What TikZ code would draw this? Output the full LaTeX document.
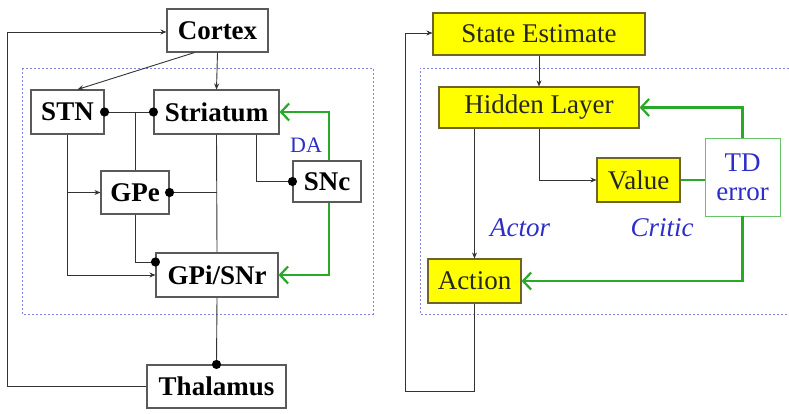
\documentclass[tikz,border=0pt]{standalone}
\usepackage{fontspec}
\setmainfont{Liberation Serif}[BoldFont={Liberation Serif Bold},ItalicFont={Liberation Serif Italic}]
\usetikzlibrary{arrows.meta,calc}
\definecolor{ybox}{RGB}{255,255,0}
\definecolor{yedge}{RGB}{110,100,40}
\definecolor{gline}{RGB}{40,170,40}
\definecolor{btext}{RGB}{45,45,200}
\definecolor{dotbox}{RGB}{130,130,220}
\definecolor{bedge}{RGB}{90,90,90}
\tikzset{
  lbox/.style={draw=bedge,line width=1.1pt,fill=white,inner sep=0pt,font=\fontsize{27}{30}\selectfont\bfseries},
  ybx/.style={draw=yedge,line width=1.1pt,fill=ybox,inner sep=0pt,text=black!85,font=\fontsize{27}{30}\selectfont},
  tdbox/.style={draw=gline!70,line width=0.9pt,fill=white,inner sep=0pt,text=btext,align=center,font=\fontsize{27}{29}\selectfont},
  con/.style={draw=black!80,line width=0.9pt},
  arr/.style={con,-{Stealth[length=6pt,width=5pt]}},
  garr/.style={draw=gline,line width=2.4pt,-{Straight Barb[length=8pt,width=17pt,line width=2.2pt]}},
  gline/.style={draw=gline,line width=2.4pt},
  dotb/.style={draw=dotbox,line width=0.9pt,dash pattern=on 2pt off 2pt},
  bluelab/.style={text=btext,inner sep=0pt},
}
\newcommand{\blob}[1]{\fill[black] (#1) circle (4.6pt);}
\begin{document}
\begin{tikzpicture}[x=1pt,y=-1pt]
\useasboundingbox (0,0) rectangle (789,414);
% dotted frames
\draw[dotb] (22,68) rectangle (373,314);
\draw[dotb] (789,68) -- (420,68) -- (420,314) -- (789,314);
% ---------- left: basal ganglia ----------
\node[lbox,minimum width=101pt,minimum height=43pt] (cortex) at (217.5,30.5) {Cortex};
\node[lbox,minimum width=73pt,minimum height=44pt] (stn) at (67.5,112) {STN};
\node[lbox,minimum width=125pt,minimum height=44pt] (striatum) at (216.5,112) {Striatum};
\node[lbox,minimum width=68pt,minimum height=43pt] (gpe) at (135,192.5) {GPe};
\node[lbox,minimum width=68pt,minimum height=41pt] (snc) at (327,181.5) {SNc};
\node[lbox,minimum width=122pt,minimum height=44pt] (gpi) at (217,275) {GPi/SNr};
\node[lbox,minimum width=139pt,minimum height=43pt] (thal) at (216.5,386.5) {Thalamus};
\node[bluelab,font=\fontsize{22}{24}\selectfont] (da) at (306,145) {DA};
% connectors
\draw[arr] ([xshift=-23]cortex.south) -- ([xshift=10]stn.north);
\draw[arr] (cortex.south) -- (striatum.north);
\draw[con] (stn.east) -- (striatum.west);
\blob{stn.east}\blob{striatum.west}
\draw[con] (gpe.north) -- (gpe.north |- stn.east);
\draw[con] (striatum.south) -- (gpi.north);
\coordinate (gpejoin) at (striatum.south |- gpe.east);
\draw[con] (gpe.east) -- (gpejoin);
\blob{gpe.east}
\draw[arr] (stn.south) |- (gpi.west);
\draw[arr] (stn.south |- gpe.west) -- (gpe.west);
\draw[con] (gpe.south) |- ([yshift=13]gpi.west);
\blob{[yshift=13]gpi.west}
\draw[con] ([xshift=40]striatum.south) |- (snc.west);
\blob{snc.west}
\draw[garr] ([xshift=2]snc.north) |- (striatum.east);
\draw[garr] ([xshift=2]snc.south) |- (gpi.east);
\draw[con] (gpi.south) -- (thal.north);
\blob{thal.north}
\coordinate (lc) at (7,386.5);
\draw[arr] (thal.west) -- (lc) |- ([yshift=-1.5]cortex.west);
% ---------- right: actor-critic ----------
\node[ybx,minimum width=212pt,minimum height=42pt] (state) at (539,34) {State Estimate};
\node[ybx,minimum width=200pt,minimum height=41pt] (hidden) at (539,107.5) {Hidden Layer};
\node[ybx,minimum width=93pt,minimum height=44pt] (action) at (474.5,281) {Action};
\node[ybx,minimum width=83pt,minimum height=44pt] (value) at (638.5,180) {Value};
\node[tdbox,minimum width=75pt,minimum height=78pt] (td) at (742.5,177) {TD\\error};
\node[bluelab,font=\fontsize{27}{29}\selectfont\itshape] (actor) at (520,228) {Actor};
\node[bluelab,font=\fontsize{27}{29}\selectfont\itshape] (critic) at (662,228) {Critic};
\draw[arr] (state.south) -- (hidden.north);
\draw[arr] (hidden.south -| action.north) -- (action.north);
\draw[arr] (hidden.south) |- (value.west);
\draw[gline] (value.east) -- (value.east -| td.west);
\draw[garr] (td.north) |- (hidden.east);
\draw[garr] (td.south) |- (action.east);
\coordinate (rl) at (405,391);
\draw[arr] (action.south) -- (action.south |- rl) -- (rl) |- ([yshift=1]state.west);
\end{tikzpicture}
\end{document}
